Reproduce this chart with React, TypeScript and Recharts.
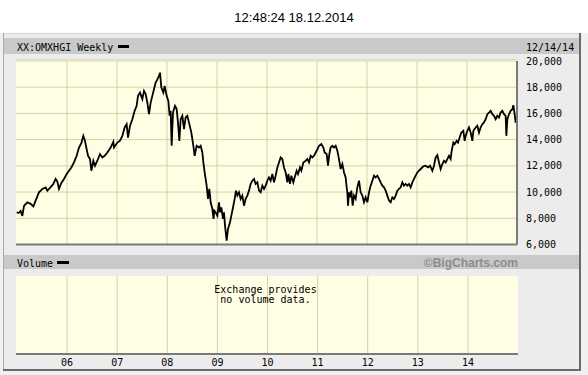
import { LineChart, Line, XAxis, YAxis, CartesianGrid, ReferenceLine } from "recharts";

// weekly closes, time as decimal year
const weekT = [
    // 2005 - 2006
    2004.993, 2005.033, 2005.073, 2005.107, 2005.14, 2005.207, 2005.273, 2005.327, 2005.373, 2005.44,
    2005.507, 2005.573, 2005.607, 2005.673, 2005.727, 2005.773, 2005.807, 2005.84, 2005.887, 2005.94,
    2005.993, 2006.04, 2006.087, 2006.14, 2006.193, 2006.24, 2006.287, 2006.327, 2006.36, 2006.393,
    2006.42, 2006.46, 2006.487, 2006.527, 2006.56, 2006.607, 2006.66, 2006.707, 2006.753, 2006.807,
    2006.873, 2006.927,
    // 2007 - 2008
    2006.94, 2007.007, 2007.06, 2007.107, 2007.153, 2007.193, 2007.22, 2007.26, 2007.307, 2007.353,
    2007.393, 2007.42, 2007.46, 2007.507, 2007.54, 2007.573, 2007.607, 2007.64, 2007.673, 2007.707,
    2007.74, 2007.773, 2007.807, 2007.84, 2007.86, 2007.887, 2007.927, 2007.953, 2007.993, 2008.027,
    2008.053, 2008.073, 2008.093, 2008.12, 2008.16, 2008.193, 2008.22, 2008.247, 2008.273, 2008.307,
    2008.34, 2008.373, 2008.407, 2008.44, 2008.487, 2008.527, 2008.553, 2008.593, 2008.64, 2008.673,
    2008.707, 2008.727, 2008.753, 2008.793, 2008.82, 2008.847, 2008.873, 2008.907, 2008.93,
    // 2009 - 2010
    2008.947, 2008.973, 2009.007, 2009.04, 2009.06, 2009.087, 2009.12, 2009.14, 2009.16, 2009.193,
    2009.22, 2009.26, 2009.287, 2009.327, 2009.353, 2009.38, 2009.407, 2009.44, 2009.473, 2009.507,
    2009.54, 2009.573, 2009.607, 2009.64, 2009.673, 2009.707, 2009.74, 2009.773, 2009.807, 2009.84,
    2009.873, 2009.907, 2009.94, 2009.973, 2010.007, 2010.04, 2010.073, 2010.107, 2010.14, 2010.173,
    2010.207, 2010.24, 2010.273, 2010.307, 2010.34, 2010.373, 2010.407, 2010.427, 2010.46, 2010.487,
    2010.527, 2010.553, 2010.593, 2010.62, 2010.66, 2010.687, 2010.727, 2010.773, 2010.807, 2010.84,
    2010.873, 2010.907,
    // 2011 - 2012
    2010.94, 2010.993, 2011.04, 2011.087, 2011.127, 2011.153, 2011.193, 2011.22, 2011.247, 2011.273,
    2011.307, 2011.34, 2011.373, 2011.407, 2011.44, 2011.473, 2011.507, 2011.54, 2011.573, 2011.593,
    2011.607, 2011.62, 2011.64, 2011.66, 2011.687, 2011.713, 2011.74, 2011.773, 2011.807, 2011.84,
    2011.873, 2011.907, 2011.94, 2011.973, 2012.007, 2012.04, 2012.073, 2012.107, 2012.14, 2012.173,
    2012.207, 2012.24, 2012.273, 2012.307, 2012.34, 2012.373, 2012.407, 2012.44, 2012.473, 2012.507,
    2012.54, 2012.573, 2012.607, 2012.64, 2012.673, 2012.707, 2012.74, 2012.773, 2012.807, 2012.84,
    2012.873, 2012.907,
    // 2013 - 2014
    2012.94, 2012.973, 2013.007, 2013.04, 2013.073, 2013.127, 2013.173, 2013.22, 2013.26, 2013.307,
    2013.34, 2013.373, 2013.407, 2013.44, 2013.473, 2013.507, 2013.54, 2013.573, 2013.607, 2013.64,
    2013.673, 2013.693, 2013.727, 2013.753, 2013.793, 2013.82, 2013.853, 2013.887, 2013.927, 2013.953,
    2013.973, 2014.007, 2014.04, 2014.073, 2014.107, 2014.127, 2014.173, 2014.207, 2014.24, 2014.273,
    2014.307, 2014.34, 2014.373, 2014.407, 2014.44, 2014.473, 2014.507, 2014.54, 2014.573, 2014.607,
    2014.64, 2014.673, 2014.707, 2014.74, 2014.773, 2014.787, 2014.807, 2014.84, 2014.873, 2014.907,
    2014.927, 2014.953, 2014.973, 2014.993,
];

const closeVals = [
    // 2005 - 2006
    8460, 8400, 8560, 8180, 8940, 9220, 9100, 8900, 9350, 9980,
    10240, 10360, 10100, 10380, 10620, 11000, 10800, 10240, 10700, 11000,
    11380, 11630, 11880, 12260, 12770, 13400, 13740, 14290, 13900, 13280,
    12770, 12520, 11630, 12390, 12010, 12390, 12900, 12640, 12770, 13020,
    13400, 13840,
    // 2007 - 2008
    13400, 13780, 13920, 14290, 14930, 15180, 14160, 15060, 15560, 16200,
    16580, 17340, 17590, 17090, 17720, 17470, 16830, 15940, 16830, 17340,
    17850, 18350, 18600, 18860, 19110, 17970, 17590, 18100, 17340, 16960,
    15820, 16200, 13530, 16070, 16580, 16330, 15300, 13910, 15560, 15820,
    14800, 15690, 15820, 15300, 14540, 13530, 12770, 13530, 13400, 13530,
    13020, 12260, 11500, 10490, 9480, 10240, 9220, 8710, 7950,
    // 2009 - 2010
    8580, 8450, 8200, 9220, 8450, 8830, 7950, 8450, 7440, 6300,
    7190, 7700, 8200, 8960, 9480, 10110, 9730, 9980, 9480, 9730,
    8960, 9480, 9730, 10110, 10620, 10870, 11000, 10620, 10740, 10110,
    9980, 10490, 10240, 10490, 10870, 11120, 10870, 11380, 10740, 11250,
    11880, 12260, 12640, 12520, 11880, 11500, 10740, 11380, 10620, 11250,
    10740, 11120, 11630, 11380, 11880, 11630, 12260, 12390, 12520, 12260,
    12770, 12640,
    // 2011 - 2012
    12770, 13150, 13530, 13660, 13400, 13020, 12900, 12010, 12900, 13400,
    13530, 13400, 13530, 13150, 12520, 11760, 12140, 11500, 11120, 10360,
    9980, 8960, 9980, 9600, 10110, 8960, 9730, 9480, 10360, 10870,
    9980, 9730, 9220, 9600, 9220, 9980, 10490, 10870, 11250, 11120,
    11250, 11000, 10740, 10490, 10360, 10110, 9730, 9350, 9220, 9600,
    9480, 9730, 10110, 10240, 10360, 10740, 10490, 10620, 10490, 10620,
    10360, 10740,
    // 2013 - 2014
    11000, 11250, 11500, 11630, 11760, 11960, 12010, 11880, 12010, 11630,
    12010, 12640, 12820, 12260, 11760, 12140, 12390, 12260, 12520, 12770,
    12520, 13150, 13780, 13660, 13910, 13780, 14160, 14540, 14670, 13910,
    14290, 14670, 14930, 14540, 13910, 14670, 14930, 15060, 14540, 14930,
    15180, 15310, 15560, 15940, 16070, 16200, 15940, 15820, 15560, 15820,
    15690, 16070, 16200, 15940, 15820, 14290, 15560, 15940, 16200, 16320,
    16630, 15940, 15300, 15700,
];

const yearTicks = [2006, 2007, 2008, 2009, 2010, 2011, 2012, 2013, 2014];
const priceTicks = [6000, 8000, 10000, 12000, 14000, 16000, 18000, 20000];
const xDomain = [2004.98, 2015.0];

const priceData = weekT.map((t, i) => ({ t, close: closeVals[i] }));

const mono = '"DejaVu Sans Mono", monospace';
const sans = '"Liberation Sans", Arial, sans-serif';
const plotFill = "#fffee4";
const gridColor = "#d3d2a5";
const edgeColor = "#7a7a7a";
const barColor = "#c9c9c9";

const yearLabel = (v: number) => String(v % 100).padStart(2, "0");

function Frame() {
    return (
        <svg width={588} height={375} style={{ position: "absolute", left: 0, top: 0 }}>
            <rect x={0} y={0} width={588} height={375} fill="#fff" />
            <rect x={0} y={33} width={588} height={342} fill="#f0f0f0" />
            <rect x={3} y={33} width={578} height={338} fill="#ececec" />
            <line x1={3} y1={33.5} x2={581} y2={33.5} stroke="#d4d4d4" />
            <line x1={3.5} y1={33} x2={3.5} y2={371} stroke="#a8a8a8" />
            <line x1={580} y1={33} x2={580} y2={371} stroke="#6a6a6a" strokeWidth={2} />
            <line x1={3} y1={370} x2={581} y2={370} stroke="#6a6a6a" strokeWidth={2} />

            {/* header bars */}
            <rect x={4} y={38} width={575} height={16} fill={barColor} />
            <rect x={4} y={255} width={575} height={14} fill={barColor} />

            {/* plot backgrounds */}
            <rect x={16} y={59} width={501} height={186} fill={plotFill} />
            <rect x={16} y={276} width={502} height={78} fill={plotFill} />
            <line x1={16} y1={59.5} x2={517} y2={59.5} stroke="#d8d8d0" />

            <text x={294} y={21.5} textAnchor="middle" fontFamily={sans} fontSize={13} fill="#000">
                12:48:24 18.12.2014
            </text>
            <text x={17} y={50.5} fontFamily={mono} fontSize={10} fill="#000">XX:OMXHGI Weekly</text>
            <rect x={118} y={45} width={11} height={3} fill="#000" />
            <text x={526} y={50.5} fontFamily={mono} fontSize={10} fill="#000">12/14/14</text>

            <text x={17} y={266.5} fontFamily={mono} fontSize={10} fill="#000">Volume</text>
            <rect x={57} y={261} width={12} height={3} fill="#000" />
            <text x={518} y={266.5} textAnchor="end" fontFamily={sans} fontWeight="bold" fontSize={12} fill="#8c8c8c">
                ©BigCharts.com
            </text>
        </svg>
    );
}

function PriceChart() {
    return (
        <div style={{ position: "absolute", left: 0, top: 0 }}>
            <LineChart width={580} height={260} data={priceData}
                margin={{ top: 61, right: 3, bottom: 15.5, left: 16 }}>
                <CartesianGrid stroke={gridColor} fill="none"
                    horizontalValues={priceTicks} verticalValues={yearTicks} />
                <XAxis dataKey="t" type="number" domain={xDomain} ticks={yearTicks}
                    allowDataOverflow hide />
                <YAxis orientation="right" domain={[6000, 20000]} ticks={priceTicks}
                    width={60} interval={0}
                    tickLine={false}
                    tickMargin={3}
                    axisLine={{ stroke: edgeColor, strokeWidth: 2 }}
                    tick={{ fontFamily: mono, fontSize: 10, fill: "#000" }}
                    tickFormatter={(v: number) => v.toLocaleString("en-US")} />
                <ReferenceLine y={6000} stroke={edgeColor} strokeWidth={2} />
                <Line dataKey="close" type="linear" stroke="#000" strokeWidth={1.8}
                    dot={false} activeDot={false} isAnimationActive={false} />
            </LineChart>
        </div>
    );
}

function VolumeChart() {
    return (
        <div style={{ position: "absolute", left: 0, top: 260 }}>
            <LineChart width={580} height={115} data={priceData}
                margin={{ top: 16, right: 62, bottom: 1, left: 16 }}>
                <CartesianGrid stroke={gridColor} fill="none" horizontal={false}
                    verticalValues={yearTicks} />
                <XAxis dataKey="t" type="number" domain={xDomain} ticks={yearTicks}
                    allowDataOverflow height={20} interval={0}
                    tickLine={false} tickSize={0} tickMargin={5}
                    axisLine={{ stroke: edgeColor, strokeWidth: 2 }}
                    tick={{ fontFamily: mono, fontSize: 10, fill: "#000" }}
                    tickFormatter={yearLabel} />
                <YAxis hide domain={[0, 1]} />
                <ReferenceLine x={2015} stroke={edgeColor} strokeWidth={2} />
            </LineChart>
        </div>
    );
}

export default function App() {
    return (
        <div style={{ position: "absolute", left: 0, top: 0, width: 588, height: 375, overflow: "hidden" }}>
            <Frame />
            <PriceChart />
            <VolumeChart />
            <svg width={588} height={375} style={{ position: "absolute", left: 0, top: 0, pointerEvents: "none" }}>
                <text x={265.5} y={292.5} textAnchor="middle" fontFamily={mono} fontSize={10} fill="#000">
                    Exchange provides
                </text>
                <text x={265.5} y={302.5} textAnchor="middle" fontFamily={mono} fontSize={10} fill="#000">
                    no volume data.
                </text>
            </svg>
        </div>
    );
}
